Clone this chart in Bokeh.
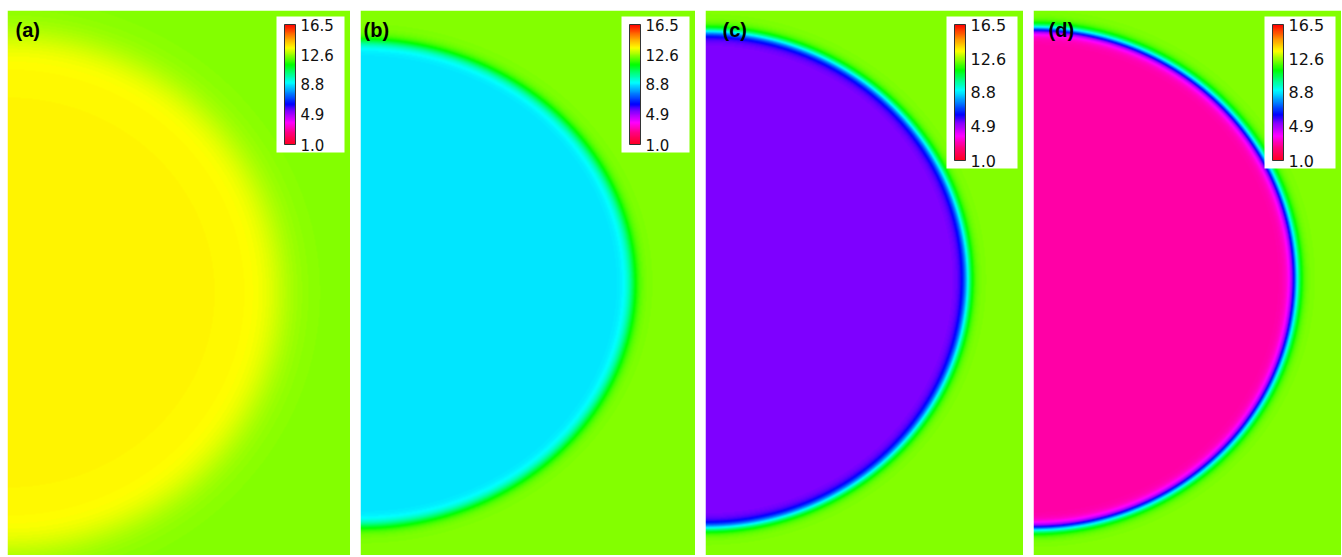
import numpy as np
from bokeh.plotting import figure
from bokeh.models import (LinearColorMapper, ColorBar, FixedTicker,
                          PrintfTickFormatter, Label, Range1d)
from bokeh.layouts import row
from bokeh.embed import file_html
from bokeh.resources import INLINE

# ---------------- data ----------------
panel_labels = ["(a)", "(b)", "(c)", "(d)"]
inner_values = [13.6, 8.7, 5.3, 2.9]          # value inside the half disc
background_values = [12.4, 12.4, 12.4, 12.4]  # value of the surrounding field
colorbar_ticks = [1.0, 4.9, 8.8, 12.6, 16.5]
value_low, value_high = 1.0, 16.5
semi_axis_x = [272, 272, 262, 262]            # half-disc extent to the right
semi_axis_y = [256, 242, 248, 250]            # half-disc vertical half-height
center_y = [265, 274, 278, 279]               # disc centre, from bottom
edge_width = [24, 7, 6, 6]                    # width of the transition zone

# ---------------- styling / layout ----------------
panel_widths = [343, 335, 318, 308]
left_pad = [7, 0, 0, 0]
field_height = 547
frame_height = 545
cb_heights = [120, 120, 136, 136]
cb_font = ["15px", "15px", "16px", "16px"]
label_x = [8, 3, 17, 15]

anchor_vals = [1.0, 2.5, 3.8, 5.3, 6.2, 7.6, 9.0, 10.2, 11.3, 12.4, 13.5, 14.8, 16.5]
anchor_cols = ["#ff0020", "#ff0080", "#ff00ff", "#8000ff", "#0000ff", "#0080ff",
               "#00ffff", "#00ff80", "#00ff00", "#80ff00", "#ffff00", "#ff9900",
               "#ff0000"]


def hex2rgb(h):
    return [int(h[i:i + 2], 16) for i in (1, 3, 5)]


rgb = np.array([hex2rgb(c) for c in anchor_cols], dtype=float)
grid = np.linspace(value_low, value_high, 256)
palette = []
for v in grid:
    r = np.interp(v, anchor_vals, rgb[:, 0])
    g = np.interp(v, anchor_vals, rgb[:, 1])
    b = np.interp(v, anchor_vals, rgb[:, 2])
    palette.append("#%02x%02x%02x" % (int(round(r)), int(round(g)), int(round(b))))

mapper = LinearColorMapper(palette=palette, low=value_low, high=value_high)

figs = []
for i in range(4):
    W = panel_widths[i]
    xs = np.arange(W) + 0.5
    ys = np.arange(field_height) + 0.5
    X, Y = np.meshgrid(xs, ys)
    a, b = semi_axis_x[i], semi_axis_y[i]
    rr = np.sqrt((X / a) ** 2 + ((Y - center_y[i]) / b) ** 2)
    dist = (rr - 1.0) * 0.5 * (a + b)
    frac = 0.5 * (1.0 + np.tanh(dist / edge_width[i]))
    field = (inner_values[i] + (background_values[i] - inner_values[i]) * frac).astype(np.float32)

    p = figure(width=W + left_pad[i], height=frame_height + 10, output_backend="svg",
               toolbar_location=None, x_axis_type=None, y_axis_type=None,
               x_range=Range1d(0, W), y_range=Range1d(field_height - frame_height, field_height),
               min_border_left=left_pad[i], min_border_right=0, min_border_bottom=0,
               min_border_top=10, outline_line_color=None)
    p.grid.visible = False
    p.image(image=[field], x=0, y=0, dw=W, dh=field_height, color_mapper=mapper)

    cb = ColorBar(color_mapper=mapper, location="top_right", margin=6,
                  ticker=FixedTicker(ticks=colorbar_ticks),
                  formatter=PrintfTickFormatter(format="%.1f"),
                  width=11, height=cb_heights[i], padding=8, label_standoff=5,
                  major_tick_line_color=None, minor_tick_line_color=None,
                  bar_line_color="#333333", border_line_color=None,
                  background_fill_color="white", background_fill_alpha=1.0,
                  major_label_text_font="DejaVu Sans",
                  major_label_text_font_size=cb_font[i],
                  major_label_text_color="#111111")
    p.add_layout(cb, "center")

    lab = Label(x=label_x[i], y=frame_height - 19, x_units="screen", y_units="screen",
                text=panel_labels[i], text_font="Liberation Sans",
                text_font_style="bold", text_font_size="20px",
                text_color="black", text_baseline="middle")
    p.add_layout(lab)
    figs.append(p)

layout = row(*figs, spacing=10)
open("out.html", "w").write(file_html(layout, INLINE))
